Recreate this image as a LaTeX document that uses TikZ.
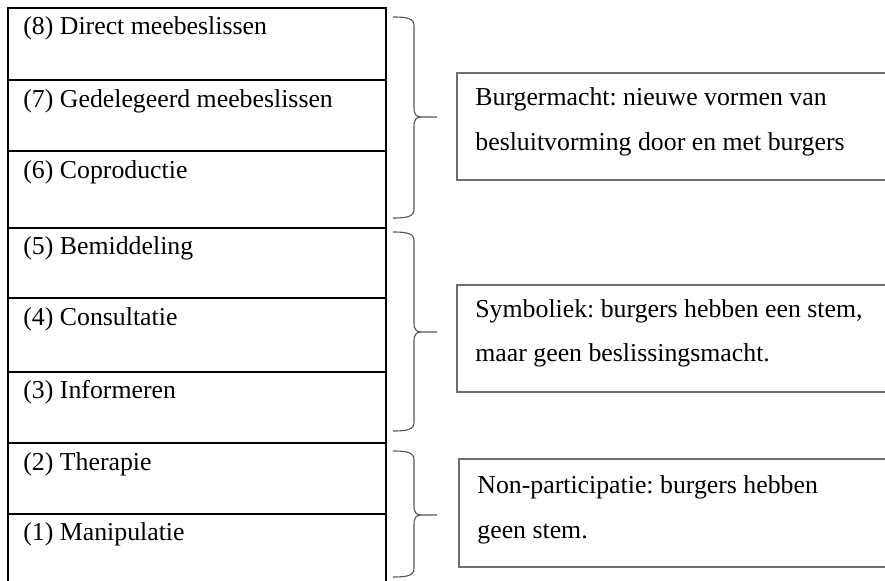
\documentclass[tikz,border=0pt]{standalone}
\usepackage{fontspec}
\setmainfont{Liberation Serif}
\frenchspacing
\definecolor{boxgray}{HTML}{6E6E6E}
\definecolor{bracegray}{HTML}{555555}
\newcommand\ladderbrace[3]{%
  \draw[bracegray, line width=0.55pt]
    (393,#1) .. controls (408,#1) and (414,#1+1.5) .. (414,#1+9)
    -- (414,#2-9) .. controls (414,#2-2) and (417,#2) .. (421,#2) -- (437,#2);
  \draw[bracegray, line width=0.55pt]
    (393,#3) .. controls (408,#3) and (414,#3-1.5) .. (414,#3-9)
    -- (414,#2+9) .. controls (414,#2+2) and (417,#2) .. (421,#2);
}
\begin{document}
\begin{tikzpicture}[x=0.5pt,y=-0.5pt,
  lbl/.style={anchor=base west, inner sep=0pt, font=\fontsize{12.9}{15}\selectfont},
  frame/.style={draw=black, line width=1pt},
  divider/.style={draw=black, line width=0.75pt},
  tbox/.style={draw=boxgray, line width=0.7pt}]
\clip (0,0) rectangle (885,580);
\fill[white] (0,0) rectangle (885,580);
% left ladder
\draw[frame] (8,600) -- (8,8) -- (386,8) -- (386,600);
\draw[divider] (8,80) -- (386,80);
\draw[divider] (8,151) -- (386,151);
\draw[divider, line width=1pt] (8,228) -- (386,228);
\draw[divider] (8,298) -- (386,298);
\draw[divider] (8,372) -- (386,372);
\draw[divider] (8,443) -- (386,443);
\draw[divider] (8,514) -- (386,514);
\node[lbl] (r8) at (23,34) {(8) Direct meebeslissen};
\node[lbl] (r7) at (23,107) {(7) Gedelegeerd meebeslissen};
\node[lbl] (r6) at (23,178) {(6) Coproductie};
\node[lbl] (r5) at (23,254) {(5) Bemiddeling};
\node[lbl] (r4) at (23,325) {(4) Consultatie};
\node[lbl] (r3) at (23,398) {(3) Informeren};
\node[lbl] (r2) at (23,470) {(2) Therapie};
\node[lbl] (r1) at (23,540) {(1) Manipulatie};
% braces
\ladderbrace{17}{117}{218}
\ladderbrace{232}{332}{431}
\ladderbrace{451}{515}{577}
% right boxes
\draw[tbox] (457,73) rectangle (900,180);
\node[lbl] (b1a) at (475,105) {Burgermacht: nieuwe vormen van};
\node[lbl] (b1b) at (475,150) {besluitvorming door en met burgers};
\draw[tbox] (457,285) rectangle (900,392);
\node[lbl] (b2a) at (475,317) {Symboliek: burgers hebben een stem,};
\node[lbl] (b2b) at (475,361) {maar geen beslissingsmacht.};
\draw[tbox] (459,459) rectangle (900,567);
\node[lbl] (b3a) at (477,493) {Non-participatie: burgers hebben};
\node[lbl] (b3b) at (477,538) {geen stem.};
\end{tikzpicture}
\end{document}
